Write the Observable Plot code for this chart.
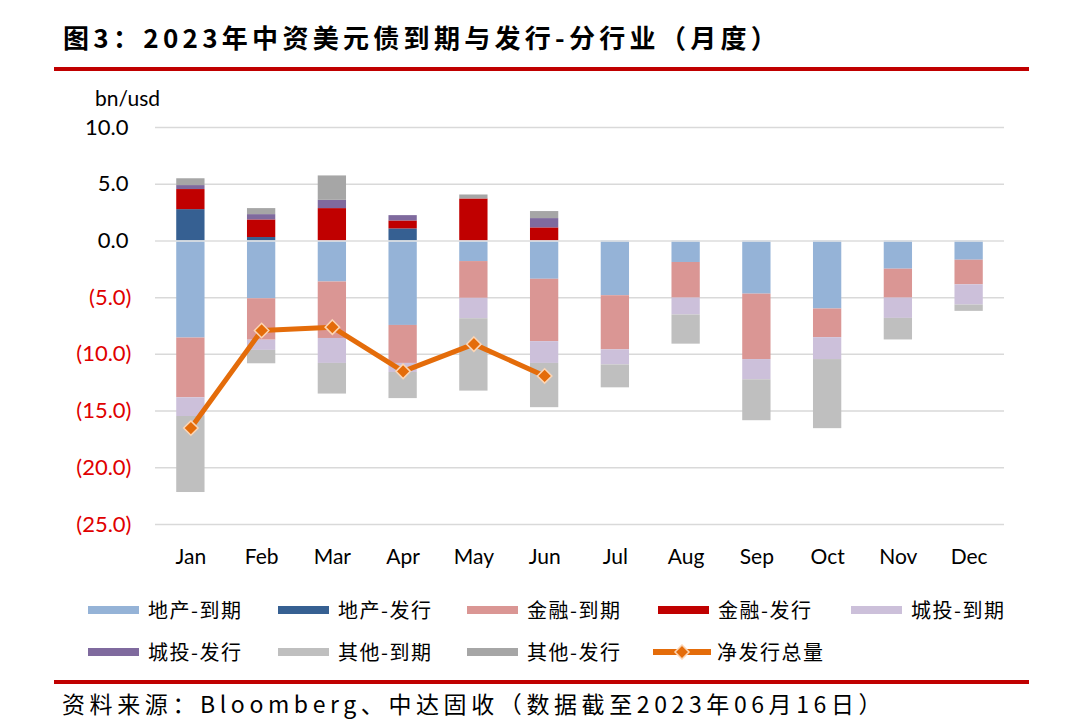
<!DOCTYPE html>
<html>
<head>
<meta charset="utf-8">
<script src="https://cdn.jsdelivr.net/npm/d3@7"></script>
<script src="https://cdn.jsdelivr.net/npm/@observablehq/plot@0.6"></script>
<style>
  html, body { margin: 0; padding: 0; background: #fff; }
  #wrap { position: relative; width: 1080px; height: 725px; overflow: hidden; background: #fff; }
  .cjk { font-family: "Noto Sans CJK SC", sans-serif; color: #000; white-space: nowrap; }
  #title { position: absolute; left: 63px; top: 20px; font-size: 26px; line-height: 34px; letter-spacing: 4.3px; font-weight: bold; }
  .redline { position: absolute; left: 54px; width: 975px; height: 4px; background: #c00000; }
  #source { position: absolute; left: 62px; top: 688px; font-size: 23px; line-height: 30px; letter-spacing: 4.6px; }
  #unit { position: absolute; left: 95px; top: 84px; font-family: Lato, sans-serif; font-size: 21px; line-height: 28px; color: #000; }
  #chart { position: absolute; left: 0; top: 75px; }
  .leg { position: absolute; display: flex; align-items: center; height: 24px; }
  .sw { width: 51px; height: 8px; margin-right: 9px; }
  .lt { font-size: 20px; letter-spacing: 1.5px; line-height: 24px; }
</style>
</head>
<body>
<div id="wrap">
  <div id="title" class="cjk">图3：2023年中资美元债到期与发行-分行业（月度）</div>
  <div class="redline" style="top:67px"></div>
  <div id="unit">bn/usd</div>
  <div id="chart"></div>
  <div id="legend"></div>
  <div class="redline" style="top:680px"></div>
  <div id="source" class="cjk">资料来源：Bloomberg、中达固收（数据截至2023年06月16日）</div>
</div>
<script>
const months = ["Jan","Feb","Mar","Apr","May","Jun","Jul","Aug","Sep","Oct","Nov","Dec"];
const seriesNames = ["地产-到期","地产-发行","金融-到期","金融-发行","城投-到期","城投-发行","其他-到期","其他-发行"];
const seriesColors = ["#95b3d7","#366092","#da9694","#c00000","#ccc0da","#7f6a9e","#bfbfbf","#a6a6a6"];

const propMaturity  = [-8.56,-5.10,-3.62,-7.45,-1.82,-3.38,-4.83,-1.90,-4.69,-6.00,-2.49,-1.70];
const propIssuance  = [ 2.76, 0.30, 0.00, 1.06, 0.00, 0.00, 0, 0, 0, 0, 0, 0];
const finMaturity   = [-5.27,-3.65,-4.98,-3.35,-3.24,-5.50,-4.77,-3.14,-5.77,-2.53,-2.55,-2.17];
const finIssuance   = [ 1.77, 1.55, 2.85, 0.70, 3.70, 1.15, 0, 0, 0, 0, 0, 0];
const lgfvMaturity  = [-1.65,-0.90,-2.20,-0.80,-1.80,-1.92,-1.33,-1.49,-1.78,-1.93,-1.79,-1.78];
const lgfvIssuance  = [ 0.35, 0.47, 0.73, 0.47, 0.00, 0.82, 0, 0, 0, 0, 0, 0];
const otherMaturity = [-6.70,-1.18,-2.70,-2.30,-6.38,-3.90,-2.02,-2.57,-3.61,-6.09,-1.90,-0.56];
const otherIssuance = [ 0.60, 0.53, 2.15, 0.00, 0.35, 0.62, 0, 0, 0, 0, 0, 0];

const netMonths = ["Jan","Feb","Mar","Apr","May","Jun"];
const netValues = [-16.5,-7.9,-7.6,-11.5,-9.1,-11.9];
const netName = "净发行总量";

const yTicks = [10, 5, 0, -5, -10, -15, -20, -25];

const seriesValues = [propMaturity, propIssuance, finMaturity, finIssuance, lgfvMaturity, lgfvIssuance, otherMaturity, otherIssuance];
const data = seriesNames.flatMap((s, i) => months.map((m, j) => ({month: m, series: s, value: seriesValues[i][j]})));
const net = netMonths.map((m, j) => ({month: m, value: netValues[j]}));
const fmt = v => v < 0 ? `(${Math.abs(v).toFixed(1)})` : v.toFixed(1);

const chart = Plot.plot({
  width: 1080,
  height: 510,
  marginLeft: 155,
  marginRight: 76,
  marginTop: 52,
  marginBottom: 61,
  style: {fontFamily: "Lato, sans-serif", background: "transparent"},
  x: {domain: months, paddingInner: 0.6, paddingOuter: 0.3, round: false},
  y: {domain: [-25, 10], axis: null},
  color: {domain: seriesNames, range: seriesColors},
  marks: [
    Plot.gridY(yTicks, {stroke: "#d9d9d9", strokeOpacity: 1, strokeWidth: 1.5}),
    Plot.barY(data, {x: "month", y: "value", fill: "series"}),
    Plot.ruleY([0], {stroke: "#e6e6e6", strokeWidth: 1.5}),
    Plot.line(net, {x: "month", y: "value", stroke: "#e46c0a", strokeWidth: 5}),
    Plot.dot(net, {x: "month", y: "value", symbol: "diamond2", r: 6.5, fill: "#e46c0a", stroke: "#fcd5b4", strokeWidth: 1.5}),
    Plot.axisX({tickSize: 0, tickPadding: 25, fontSize: 21, label: null, color: "#000"}),
    Plot.axisY({ticks: yTicks.filter(v => v >= 0), tickSize: 0, tickPadding: 27, tickFormat: fmt, fontSize: 22, label: null, color: "#000"}),
    Plot.axisY({ticks: yTicks.filter(v => v < 0), tickSize: 0, tickPadding: 24, tickFormat: fmt, fontSize: 22, label: null, color: "#e00000"})
  ]
});
document.getElementById("chart").appendChild(chart);

// Legend
const legend = document.getElementById("legend");
const legendPos = [
  [88, 598], [278, 598], [467, 598], [658, 598], [851, 598],
  [88, 640], [278, 640], [467, 640]
];
seriesNames.forEach((s, i) => {
  const el = document.createElement("div");
  el.className = "leg";
  el.style.left = legendPos[i][0] + "px";
  el.style.top = legendPos[i][1] + "px";
  el.innerHTML = `<div class="sw" style="background:${seriesColors[i]}"></div><span class="lt cjk">${s}</span>`;
  legend.appendChild(el);
});
const netEl = document.createElement("div");
netEl.className = "leg";
netEl.style.left = "653px";
netEl.style.top = "640px";
netEl.innerHTML = `<svg width="58" height="24" style="margin-right:6px"><line x1="1" y1="12" x2="57" y2="12" stroke="#e46c0a" stroke-width="6" stroke-linecap="round"/><path d="M29,5 L36,12 L29,19 L22,12 Z" fill="#e46c0a" stroke="#fcd5b4" stroke-width="1.5"/></svg><span class="lt cjk">${netName}</span>`;
legend.appendChild(netEl);
</script>
</body>
</html>
